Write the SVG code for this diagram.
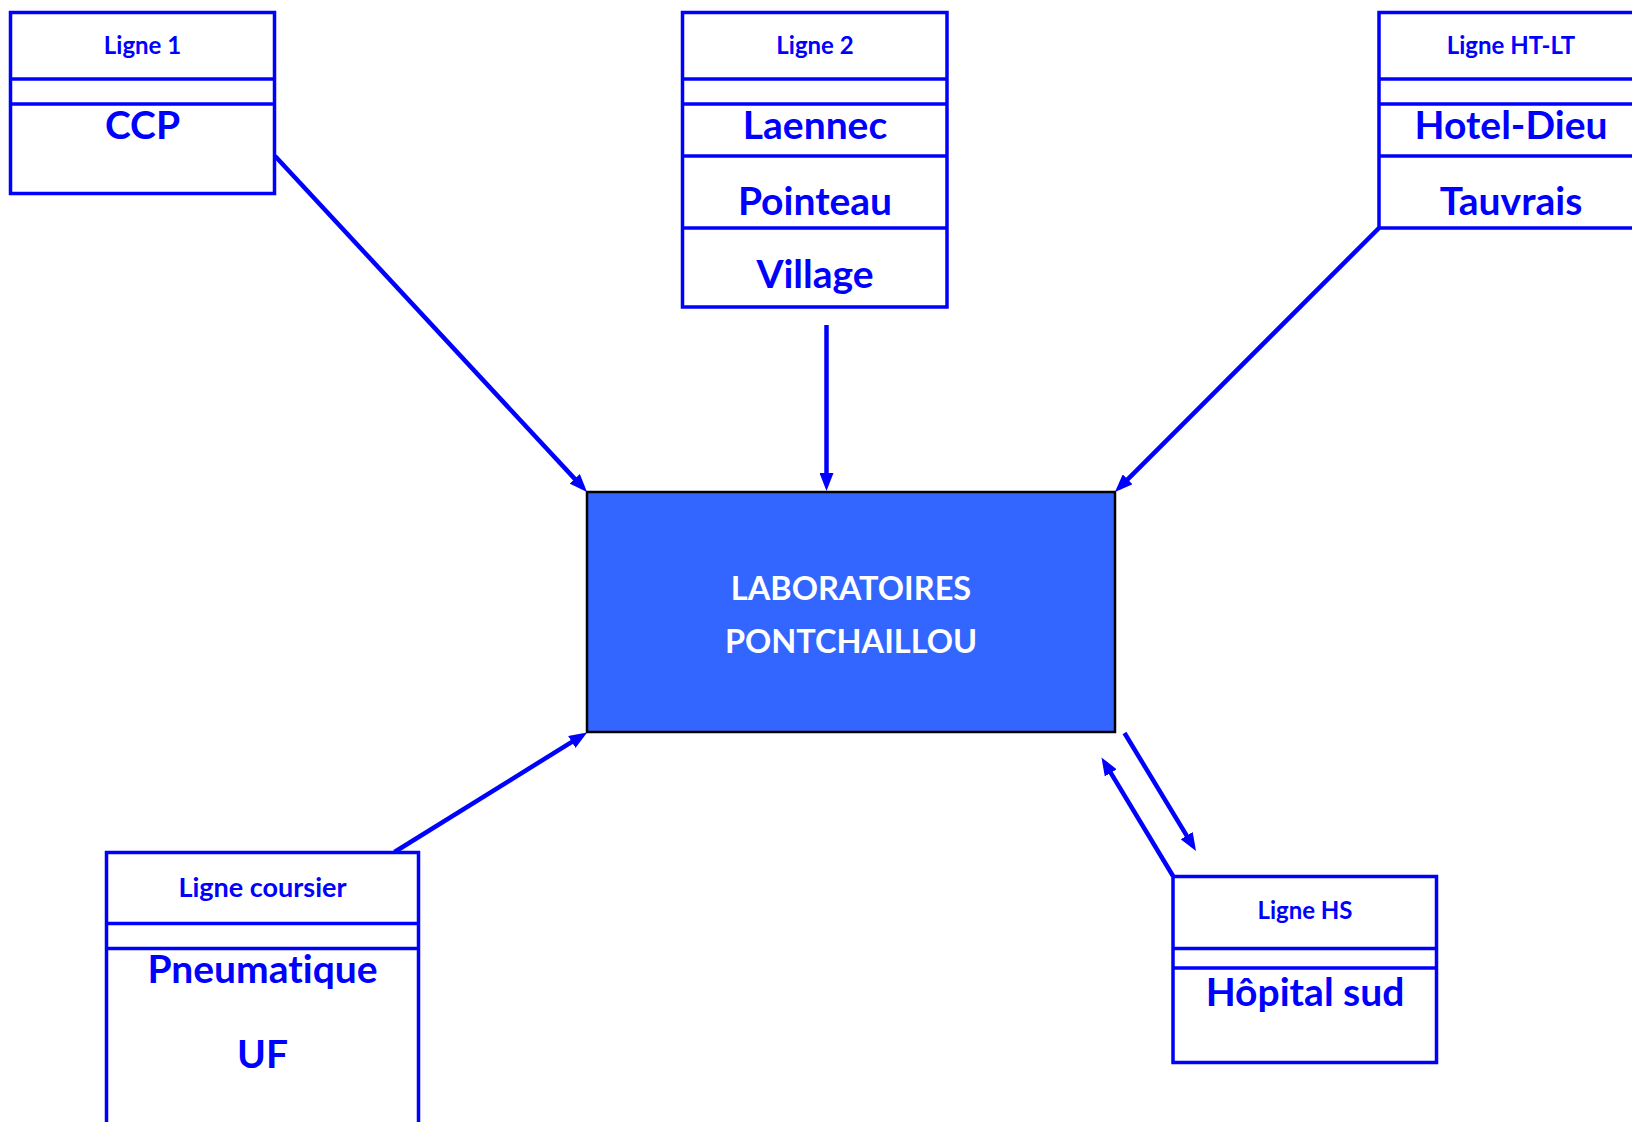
<svg xmlns="http://www.w3.org/2000/svg" width="1632" height="1122" viewBox="0 0 1632 1122">
<defs>
<style>
.box{fill:#fff;stroke:#0000ff;stroke-width:3.5}
.div{stroke:#0000ff;stroke-width:3.5}
.lbl{font-family:Lato,"Open Sans",sans-serif;font-weight:bold;fill:#0000ff;text-anchor:middle;font-variant-ligatures:none}
.small{font-size:24px}
.mid{font-size:27px}
.big{font-size:39px}
.lab{fill:#3366ff;stroke:#000;stroke-width:2.5}
.labt{font-family:Lato,"Open Sans",sans-serif;font-weight:bold;fill:#fff;text-anchor:middle;font-size:32.5px}
.conn{stroke:#0000ff;stroke-width:4.5;fill:none;marker-end:url(#ah)}
</style>
<marker id="ah" markerUnits="userSpaceOnUse" viewBox="0 0 18 14" refX="12" refY="7" markerWidth="18" markerHeight="14" orient="auto">
<path d="M0,0 L18,7 L0,14 z" fill="#0000ff"/>
</marker>
</defs>
<rect width="1632" height="1122" fill="#fff"/>

<g id="ligne1">
<rect class="box" x="10.5" y="12.5" width="264" height="181"/>
<line class="div" x1="10.5" y1="79" x2="274.5" y2="79"/>
<line class="div" x1="10.5" y1="104" x2="274.5" y2="104"/>
<text class="lbl small" x="142.5" y="54">Ligne 1</text>
<text class="lbl big" x="142.5" y="139">CCP</text>
</g>

<g id="ligne2">
<rect class="box" x="682.5" y="12.5" width="264.5" height="294.5"/>
<line class="div" x1="682.5" y1="79" x2="947" y2="79"/>
<line class="div" x1="682.5" y1="104" x2="947" y2="104"/>
<line class="div" x1="682.5" y1="156" x2="947" y2="156"/>
<line class="div" x1="682.5" y1="228" x2="947" y2="228"/>
<text class="lbl small" x="815" y="54">Ligne 2</text>
<text class="lbl big" x="815" y="139">Laennec</text>
<text class="lbl big" x="815" y="215">Pointeau</text>
<text class="lbl big" x="815" y="288">Village</text>
</g>

<g id="ligneHTLT">
<rect class="box" x="1379" y="12.5" width="264.5" height="215.5"/>
<line class="div" x1="1379" y1="79" x2="1643.5" y2="79"/>
<line class="div" x1="1379" y1="104" x2="1643.5" y2="104"/>
<line class="div" x1="1379" y1="156" x2="1643.5" y2="156"/>
<text class="lbl small" x="1511" y="54">Ligne HT-LT</text>
<text class="lbl big" x="1511" y="139">Hotel-Dieu</text>
<text class="lbl big" x="1511" y="215">Tauvrais</text>
</g>

<g id="laboratoires">
<rect class="lab" x="587" y="492" width="528" height="240"/>
<text class="labt" x="851" y="600">LABORATOIRES</text>
<text class="labt" x="851" y="653">PONTCHAILLOU</text>
</g>

<g id="ligneCoursier">
<rect class="box" x="106.5" y="852.5" width="312" height="290"/>
<line class="div" x1="106.5" y1="923.5" x2="418.5" y2="923.5"/>
<line class="div" x1="106.5" y1="948.5" x2="418.5" y2="948.5"/>
<text class="lbl mid" x="262.5" y="897">Ligne coursier</text>
<text class="lbl big" x="262.5" y="983">Pneumatique</text>
<text class="lbl big" x="262.5" y="1068">UF</text>
</g>

<g id="ligneHS">
<rect class="box" x="1173" y="876.5" width="263.5" height="186"/>
<line class="div" x1="1173" y1="948.5" x2="1436.5" y2="948.5"/>
<line class="div" x1="1173" y1="968" x2="1436.5" y2="968"/>
<text class="lbl small" x="1305" y="919">Ligne HS</text>
<text class="lbl big" x="1305" y="1006">Hôpital sud</text>
</g>

<g id="connectors">
<line class="conn" x1="275" y1="156" x2="582.9" y2="487.6"/>
<line class="conn" x1="826.5" y1="325" x2="826.5" y2="485"/>
<line class="conn" x1="1379" y1="228" x2="1119.2" y2="487.8"/>
<line class="conn" x1="394.5" y1="852" x2="582" y2="735.6"/>
<line class="conn" x1="1124.5" y1="733" x2="1192.9" y2="845.9"/>
<line class="conn" x1="1173" y1="876" x2="1104.6" y2="762.6"/>
</g>
</svg>
